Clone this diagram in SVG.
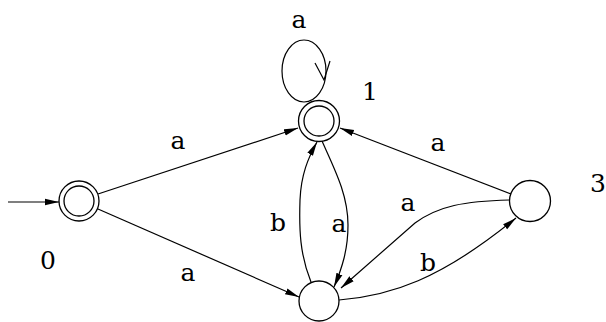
<svg xmlns="http://www.w3.org/2000/svg" width="606" height="322" viewBox="0 0 606 322">
<style>
.n{fill:none;stroke:#000;stroke-width:1.3}
.e{fill:none;stroke:#000;stroke-width:1.2}
.t{font-family:"DejaVu Serif","Liberation Serif",serif;font-size:25px;fill:#000;text-anchor:middle}
</style>
<defs>
<marker id="ah" markerUnits="userSpaceOnUse" markerWidth="16" markerHeight="10" refX="14" refY="4" orient="auto">
<path d="M0,0.8 L14,4 L0,7.2 Z" fill="#000"/>
</marker>
</defs>
<rect width="606" height="322" fill="#fff"/>
<g id="connectors">
<path class="e" d="M8,202 L59,202" marker-end="url(#ah)"/>
<ellipse class="e" cx="304" cy="71" rx="22" ry="31"/>
<path class="e" d="M315,63 L324,80 L330,61"/>
<path class="e" d="M98,194 L298,128" marker-end="url(#ah)"/>
<path class="e" d="M98,209 L299,297" marker-end="url(#ah)"/>
<path class="e" d="M511,194 L340,128" marker-end="url(#ah)"/>
<path class="e" d="M509,200 C465,201 438,206 415,223 L341,288" marker-end="url(#ah)"/>
<path class="e" d="M339,300 C390,296 440,280 516,218" marker-end="url(#ah)"/>
<path class="e" d="M322,141 C335,170 348,195 348,225 C348,250 342,268 334,287" marker-end="url(#ah)"/>
<path class="e" d="M311,282 C300,255 299,230 300,200 C301,175 308,158 317,142" marker-end="url(#ah)"/>
</g>
<g id="node0">
<circle class="n" cx="79" cy="201" r="20"/>
<circle class="n" cx="79" cy="201" r="15"/>
<text class="t" x="48" y="269">0</text>
</g>
<g id="node1">
<circle class="n" cx="319" cy="121" r="20.5"/>
<circle class="n" cx="319" cy="121" r="15"/>
<text class="t" x="370" y="100">1</text>
</g>
<g id="node2">
<circle class="n" cx="319" cy="301" r="20"/>
</g>
<g id="node3">
<circle class="n" cx="530" cy="201" r="20.5"/>
<text class="t" x="598" y="192">3</text>
</g>
<g id="labels">
<text class="t" x="299" y="28">a</text>
<text class="t" x="178" y="149">a</text>
<text class="t" x="188" y="281">a</text>
<text class="t" x="278" y="231">b</text>
<text class="t" x="339" y="232">a</text>
<text class="t" x="408" y="211">a</text>
<text class="t" x="428" y="271">b</text>
<text class="t" x="438" y="151">a</text>
</g>
</svg>
